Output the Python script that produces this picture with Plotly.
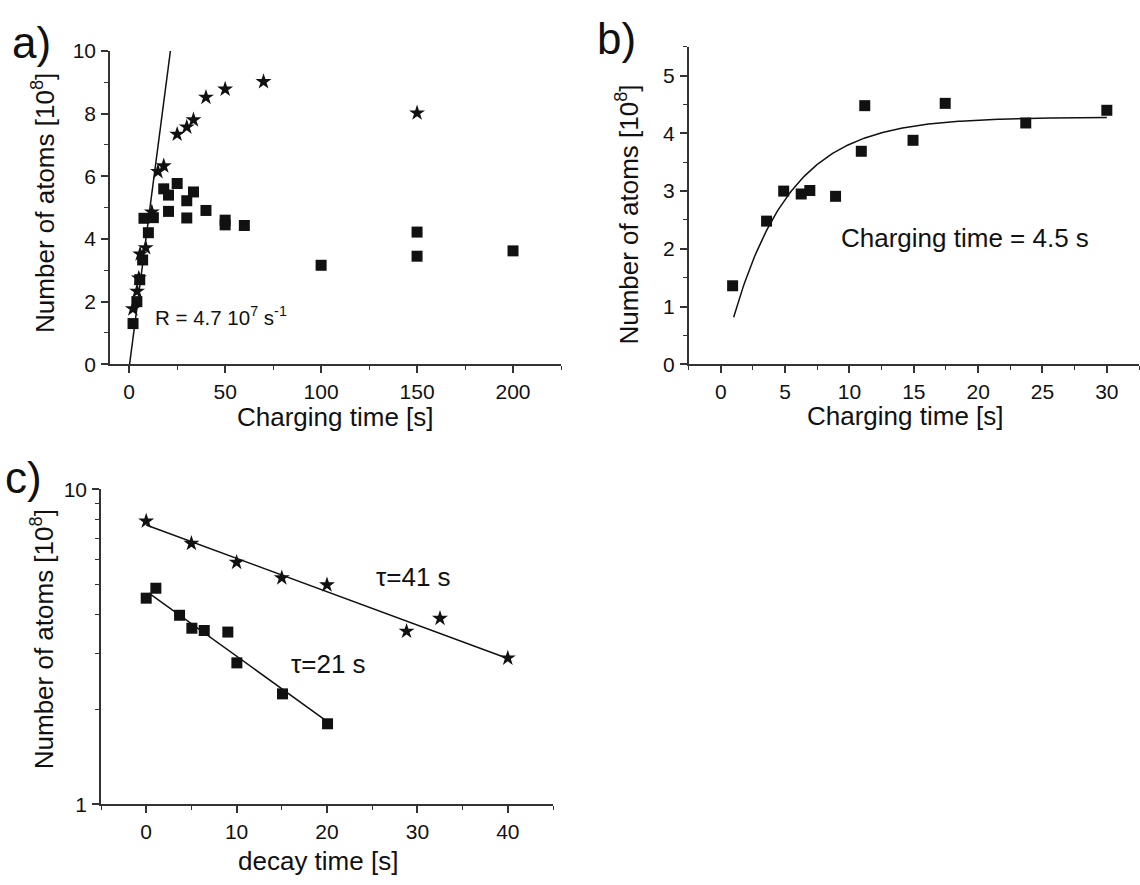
import numpy as np
import plotly.graph_objects as go

# ---------------- data ----------------
# a) loading curves: number of atoms [1e8] vs charging time [s]
a_sq_t = [2, 4, 5.5, 7, 10, 7.7, 12.6, 18, 20.5, 20.5, 25, 30, 30, 33.5, 40, 50, 50, 60, 100, 150, 150, 200]
a_sq_n = [1.3, 2.0, 2.7, 3.33, 4.2, 4.66, 4.68, 5.6, 5.4, 4.88, 5.77, 5.22, 4.67, 5.5, 4.91, 4.6, 4.45, 4.43, 3.16, 4.22, 3.45, 3.62]
a_st_t = [1.9, 4.1, 5.0, 5.7, 8.6, 11.8, 15, 18, 25, 30, 33.5, 40, 50, 70, 150]
a_st_n = [1.77, 2.33, 2.75, 3.52, 3.72, 4.86, 6.15, 6.33, 7.34, 7.57, 7.8, 8.52, 8.78, 9.02, 8.02]
a_rate = 0.47          # loading rate, 1e8 atoms per s
a_t0 = 0.2
a_fit_t = [a_t0, 22.1]

# b) loading curve with exponential fit
b_t = [0.92, 3.56, 4.89, 6.25, 6.92, 8.92, 10.92, 11.19, 14.94, 17.44, 23.7, 30]
b_n = [1.36, 2.48, 3.0, 2.95, 3.01, 2.91, 3.69, 4.48, 3.88, 4.52, 4.18, 4.40]
b_nmax = 4.28
b_tau = 4.5
b_t0 = 0.05
b_fit_range = [1, 30]

# c) decay curves (log scale)
c_st_t = [0, 5, 10, 15, 20, 28.8, 32.5, 40]
c_st_n = [7.92, 6.73, 5.86, 5.23, 4.97, 3.54, 3.89, 2.91]
c_sq_t = [0, 1.07, 3.69, 5.05, 6.42, 9.03, 10.03, 15.08, 20.06]
c_sq_n = [4.51, 4.85, 3.98, 3.62, 3.56, 3.52, 2.81, 2.24, 1.80]
c_st_fit = dict(a=7.70, tau=41, t=[0, 40])
c_sq_fit = dict(a=4.75, tau=21, t=[0.3, 20])

# ---------------- figure ----------------
W, H = 1140, 885
FONT = "Liberation Sans, Arial, sans-serif"
INK = "#111111"
AXC = "#333333"

fig = go.Figure()

sq = dict(symbol="square", size=11, color=INK, line=dict(width=0))
st = dict(symbol="star", size=12, color=INK, line=dict(width=0))

# panel a
fig.add_trace(go.Scatter(x=a_sq_t, y=a_sq_n, mode="markers", marker=sq, xaxis="x", yaxis="y", cliponaxis=False))
fig.add_trace(go.Scatter(x=a_st_t, y=a_st_n, mode="markers", marker=st, xaxis="x", yaxis="y", cliponaxis=False))
fa = np.array(a_fit_t)
fig.add_trace(go.Scatter(x=fa, y=a_rate * (fa - a_t0), mode="lines",
                         line=dict(color=INK, width=1.5), xaxis="x", yaxis="y"))

# panel b
tb = np.linspace(b_fit_range[0], b_fit_range[1], 200)
fig.add_trace(go.Scatter(x=tb, y=b_nmax * (1 - np.exp(-(tb - b_t0) / b_tau)), mode="lines",
                         line=dict(color=INK, width=1.5), xaxis="x2", yaxis="y2"))
fig.add_trace(go.Scatter(x=b_t, y=b_n, mode="markers", marker=sq, xaxis="x2", yaxis="y2", cliponaxis=False))

# panel c
for fit in (c_st_fit, c_sq_fit):
    tt = np.array(fit["t"])
    fig.add_trace(go.Scatter(x=tt, y=fit["a"] * np.exp(-tt / fit["tau"]), mode="lines",
                             line=dict(color=INK, width=1.5), xaxis="x3", yaxis="y3"))
fig.add_trace(go.Scatter(x=c_st_t, y=c_st_n, mode="markers", marker=st, xaxis="x3", yaxis="y3", cliponaxis=False))
fig.add_trace(go.Scatter(x=c_sq_t, y=c_sq_n, mode="markers", marker=sq, xaxis="x3", yaxis="y3", cliponaxis=False))

tickfont = dict(family=FONT, size=21, color=INK)


def axis(domain, rng, dtick, minor, anchor, **kw):
    d = dict(domain=domain, range=rng, anchor=anchor,
             showgrid=False, zeroline=False, showline=True, linecolor=AXC, linewidth=1.5,
             ticks="outside", ticklen=7, tickwidth=1.5, tickcolor=AXC,
             tickfont=tickfont, fixedrange=True, ticklabelstandoff=1)
    if dtick is not None:
        d.update(dtick=dtick, tick0=0)
    if minor is not None:
        d["minor"] = dict(ticks="outside", ticklen=4, tickwidth=1.2, tickcolor=AXC, showgrid=False, **minor)
    d.update(kw)
    return d


def px(v):
    return v / W


def py(v):
    return 1 - v / H


layout_axes = dict(
    xaxis=axis([px(110), px(561)], [-10, 225], 50, dict(dtick=25, tick0=0), "y"),
    yaxis=axis([py(361.7), py(40)], [0, 10], 2, dict(dtick=1, tick0=0), "x"),
    xaxis2=axis([px(688.6), px(1139)], [-2.5, 32.5], 5, dict(dtick=2.5, tick0=0), "y2"),
    yaxis2=axis([py(361.7), py(35.7)], [0, 5.5], 1, dict(dtick=0.5, tick0=0), "x2"),
    xaxis3=axis([px(101), px(553)], [-5, 45], 10, dict(dtick=5, tick0=0), "y3"),
    yaxis3=axis([py(813.3), py(490)], [0, 1], None,
                dict(tickmode="array", tickvals=[2, 3, 4, 5, 6, 7, 8, 9]),
                "x3", type="log", tickmode="array", tickvals=[1, 10], ticktext=["1", "10"]),
)

title_font = dict(family=FONT, size=26, color=INK)
ann = []


def paper_text(text, x, y, font, angle=0):
    ann.append(dict(text=text, x=px(x), y=py(y), xref="paper", yref="paper",
                    xanchor="center", yanchor="middle", showarrow=False,
                    textangle=angle, font=font))


# axis titles
paper_text("Number of atoms [10<sup>8</sup>]", 44, 196, title_font, -90)
paper_text("Charging time [s]", 335, 416, title_font)
paper_text("Number of atoms [10<sup>8</sup>]", 628, 208, title_font, -90)
paper_text("Charging time [s]", 905, 415, title_font)
paper_text("Number of atoms [10<sup>8</sup>]", 42, 644, title_font, -90)
paper_text("decay time [s]", 318, 872, title_font)

# panel letters
letter_font = dict(family=FONT, size=44, color=INK)
paper_text("a)", 31, 31, letter_font)
paper_text("b)", 616, 27, letter_font)
paper_text("c)", 23, 478, letter_font)

# in-plot labels
ann.append(dict(text="R = 4.7 10<sup>7</sup> s<sup>-1</sup>", x=12.6, y=1.55, xref="x", yref="y",
                xanchor="left", yanchor="middle", showarrow=False, font=dict(family=FONT, size=20.5, color=INK)))
ann.append(dict(text="Charging time = 4.5 s", x=9.2, y=2.19, xref="x2", yref="y2",
                xanchor="left", yanchor="middle", showarrow=False, font=dict(family=FONT, size=26, color=INK)))
ann.append(dict(text="τ=41 s", x=25.2, y=np.log10(5.25), xref="x3", yref="y3",
                xanchor="left", yanchor="middle", showarrow=False, font=dict(family=FONT, size=26, color=INK)))
ann.append(dict(text="τ=21 s", x=15.8, y=np.log10(2.78), xref="x3", yref="y3",
                xanchor="left", yanchor="middle", showarrow=False, font=dict(family=FONT, size=26, color=INK)))

fig.update_layout(
    width=W, height=H,
    margin=dict(l=0, r=0, t=0, b=0),
    paper_bgcolor="white", plot_bgcolor="white",
    showlegend=False,
    annotations=ann,
    **layout_axes,
)

fig.write_html("out.html", config=dict(displayModeBar=False))
